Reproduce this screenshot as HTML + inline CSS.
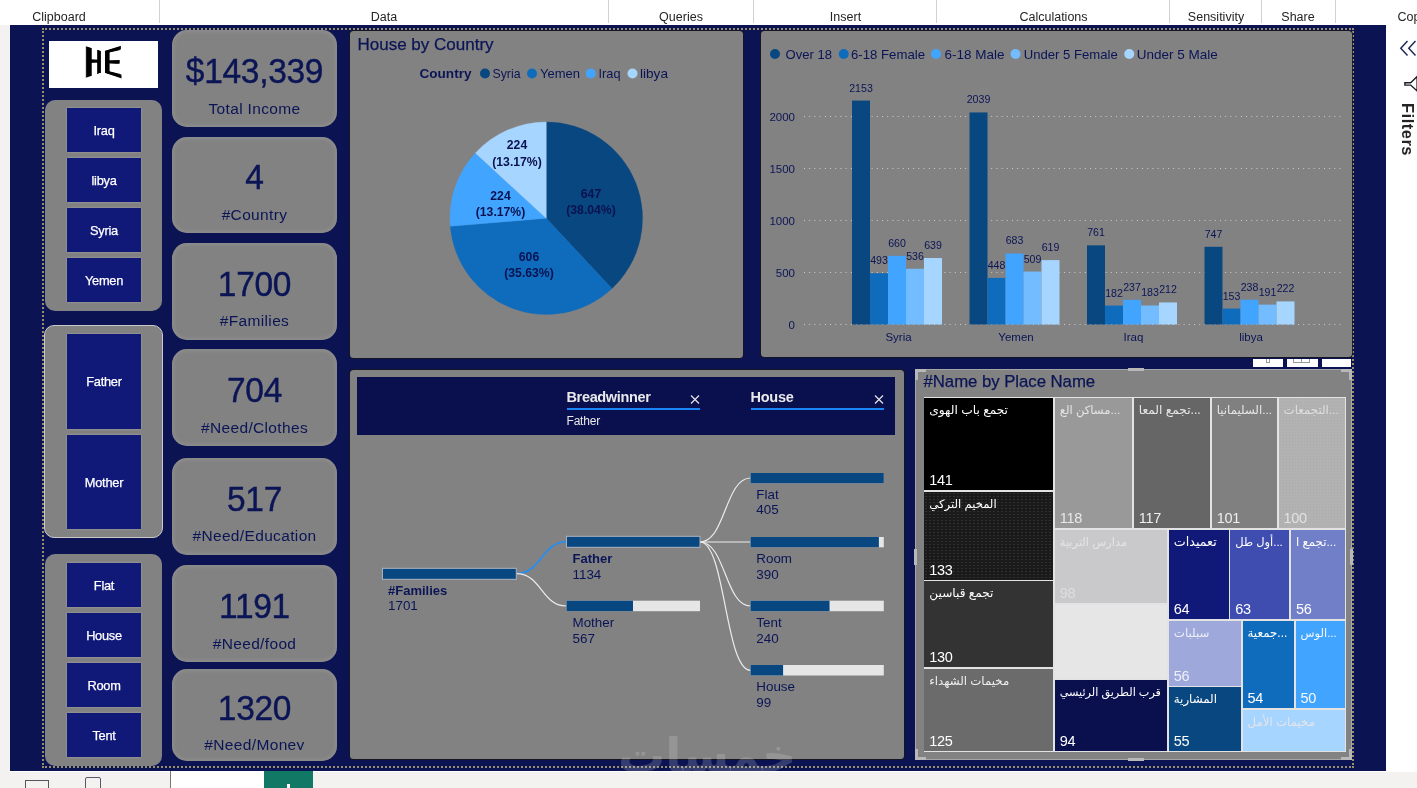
<!DOCTYPE html><html><head><meta charset="utf-8"><title>Dashboard</title><style>
*{margin:0;padding:0;box-sizing:border-box}
html,body{width:1417px;height:788px;overflow:hidden;background:#f3f2f1;font-family:"Liberation Sans","DejaVu Sans",sans-serif}
.abs{position:absolute}
#ribbon{position:absolute;left:0;top:0;width:1417px;height:25px;background:#fff}
#ribbon .sep{position:absolute;top:0;width:1px;height:23px;background:#d2d0ce}
#ribbon .lb{position:absolute;top:9.5px;font-size:12.5px;line-height:14px;color:#252423;white-space:nowrap;transform:translateX(-50%)}
#canvas{position:absolute;left:10px;top:25px;width:1376.5px;height:745.5px;background:#0b1352;overflow:hidden}
#wrap{position:absolute;left:0;top:0;width:1417px;height:788px;overflow:hidden}
.panel{position:absolute;background:#828282}
.btn{position:absolute;left:67px;width:74px;background:#101878;color:#fff;font-size:12.8px;text-align:center;box-shadow:0 0 2px rgba(200,200,210,.55)}
.btn span{position:absolute;left:0;right:0;top:50%;transform:translateY(-50%);line-height:14px;letter-spacing:-0.25px;-webkit-text-stroke:.25px #fff;margin-top:.8px}
.card{position:absolute;left:172px;width:165px;background:#828282;border-radius:15px;box-shadow:inset 0 0 5px 1px rgba(158,158,158,.55);overflow:hidden;color:#0b1556;text-align:center}
.card .v{position:absolute;left:0;right:0;font-size:35px;line-height:40px;letter-spacing:-0.3px;transform:scaleX(.957);-webkit-text-stroke:.42px #0b1556}

.lg{position:absolute;top:-3.5px;height:47px;font-size:47px;line-height:47px;color:#000;text-shadow:1px 0 #000,-1px 0 #000,2px 0 #000,-2px 0 #000,2.6px 0 #000,-2.6px 0 #000}
.din{font-family:"Liberation Sans",sans-serif}
.tm{position:absolute;overflow:hidden}
.tm .t{position:absolute;left:5px;top:3px;font-size:12.5px;line-height:18px;white-space:nowrap;font-family:"Liberation Sans","DejaVu Sans",sans-serif}
.tm .n{position:absolute;left:5px;bottom:1px;font-size:14.5px;line-height:18px;letter-spacing:-.3px}
.card .l{position:absolute;left:0;right:0;font-size:15.5px;line-height:18px;letter-spacing:.35px}
</style></head><body><div id="wrap">
<div id="ribbon">
<div class="sep" style="left:159px"></div>
<div class="sep" style="left:608px"></div>
<div class="sep" style="left:753px"></div>
<div class="sep" style="left:936px"></div>
<div class="sep" style="left:1169px"></div>
<div class="sep" style="left:1261px"></div>
<div class="sep" style="left:1335px"></div>
<div class="lb" style="left:59px">Clipboard</div>
<div class="lb" style="left:384px">Data</div>
<div class="lb" style="left:681px">Queries</div>
<div class="lb" style="left:845.5px">Insert</div>
<div class="lb" style="left:1053.5px">Calculations</div>
<div class="lb" style="left:1216px">Sensitivity</div>
<div class="lb" style="left:1298px">Share</div>
<div class="lb" style="left:1397.5px;transform:none">Copy</div>
</div>
<div id="canvas"><div class="abs" id="cv" style="left:-10px;top:-25px;width:1417px;height:788px">
<div class="abs" style="left:45px;top:28px;width:1306px;height:2px;background:repeating-linear-gradient(90deg,#96906f 0 2px,transparent 2px 4px)"></div>
<div class="abs" style="left:45px;top:766px;width:1306px;height:2px;background:repeating-linear-gradient(90deg,#96906f 0 2px,transparent 2px 4px)"></div>
<div class="abs" style="left:42px;top:31px;width:2px;height:734px;background:repeating-linear-gradient(180deg,#96906f 0 2px,transparent 2px 4px)"></div>
<div class="abs" style="left:1352px;top:31px;width:2px;height:734px;background:repeating-linear-gradient(180deg,#96906f 0 2px,transparent 2px 4px)"></div>
<div class="abs" style="left:42px;top:28px;width:2px;height:2px;background:#96906f"></div>
<div class="abs" style="left:42px;top:766px;width:2px;height:2px;background:#96906f"></div>
<div class="abs" style="left:1352px;top:28px;width:2px;height:2px;background:#96906f"></div>
<div class="abs" style="left:1352px;top:766px;width:2px;height:2px;background:#96906f"></div>
<div class="abs" style="left:49px;top:41px;width:109px;height:47px;background:#fff"></div>
<div class="abs" id="logo" style="left:49px;top:41px;width:109px;height:47px"><span class="lg" style="left:36px;transform-origin:0 50%;transform:perspective(50px) rotateY(45deg)">H</span><span class="lg" style="right:38px;text-shadow:1px 0 #000,-1px 0 #000,2px 0 #000,-2px 0 #000,3px 0 #000,-3px 0 #000,3.5px 0 #000,-3.5px 0 #000;transform-origin:100% 50%;transform:perspective(50px) rotateY(-45deg)">E</span></div>
<div class="panel" style="left:45px;top:100px;width:117px;height:211px;border-radius:10px;"></div>
<div class="btn" style="top:108px;height:44px"><span>Iraq</span></div>
<div class="btn" style="top:158px;height:44px"><span>libya</span></div>
<div class="btn" style="top:208px;height:44px"><span>Syria</span></div>
<div class="btn" style="top:258px;height:44px"><span>Yemen</span></div>
<div class="panel" style="left:44px;top:325px;width:119px;height:213px;border-radius:10px;border:1px solid #c9c9c9;"></div>
<div class="btn" style="top:334px;height:95px"><span>Father</span></div>
<div class="btn" style="top:435px;height:94px"><span>Mother</span></div>
<div class="panel" style="left:45px;top:554px;width:117px;height:212px;border-radius:10px;"></div>
<div class="btn" style="top:563px;height:44px"><span>Flat</span></div>
<div class="btn" style="top:613px;height:44px"><span>House</span></div>
<div class="btn" style="top:663px;height:44px"><span>Room</span></div>
<div class="btn" style="top:713px;height:44px"><span>Tent</span></div>
<div class="card" style="top:30px;height:97px"><div class="v" style="top:21.2px">$143,339</div><div class="l" style="top:69.6px">Total Income</div></div>
<div class="card" style="top:137px;height:96px"><div class="v" style="top:20.2px">4</div><div class="l" style="top:68.6px">#Country</div></div>
<div class="card" style="top:243px;height:96.5px"><div class="v" style="top:20.7px">1700</div><div class="l" style="top:69.1px">#Families</div></div>
<div class="card" style="top:349px;height:97px"><div class="v" style="top:21.2px">704</div><div class="l" style="top:69.6px">#Need/Clothes</div></div>
<div class="card" style="top:457.5px;height:97.0px"><div class="v" style="top:21.2px">517</div><div class="l" style="top:69.6px">#Need/Education</div></div>
<div class="card" style="top:565px;height:97px"><div class="v" style="top:21.2px">1191</div><div class="l" style="top:69.6px">#Need/food</div></div>
<div class="card" style="top:669px;height:91.5px"><div class="v" style="top:18.8px">1320</div><div class="l" style="top:66.5px;height:14px;overflow:hidden">#Need/Money</div></div>
<div class="panel" style="left:350px;top:31px;width:393px;height:326.5px;border-radius:3.5px;box-shadow:0 0 0 1px rgba(22,22,22,.8)"></div>
<div class="abs din" style="left:357.5px;top:35px;font-size:17px;line-height:20px;color:#0b1556;letter-spacing:0;-webkit-text-stroke:.25px #0b1556">House by Country</div>
<svg class="abs" style="left:0;top:0" width="1417" height="788" viewBox="0 0 1417 788">
<g font-family="Liberation Sans, sans-serif" font-size="13" fill="#0b1556">
<text x="419.5" y="78" font-weight="bold" textLength="52" lengthAdjust="spacingAndGlyphs">Country</text>
<circle cx="485" cy="73.5" r="5" fill="#094780"/>
<text x="492.5" y="78" textLength="28" lengthAdjust="spacingAndGlyphs">Syria</text>
<circle cx="532" cy="73.5" r="5" fill="#0f6cbd"/>
<text x="540" y="78" textLength="40" lengthAdjust="spacingAndGlyphs">Yemen</text>
<circle cx="590.75" cy="73.5" r="5" fill="#41a4ff"/>
<text x="598.5" y="78" textLength="22" lengthAdjust="spacingAndGlyphs">Iraq</text>
<circle cx="632.5" cy="73.5" r="5" fill="#a6d5ff"/>
<text x="640" y="78" textLength="28" lengthAdjust="spacingAndGlyphs">libya</text>
</g>
<path d="M546.25 218.25 L546.25 122.00 A96.25 96.25 0 0 1 611.96 288.58 Z" fill="#094780" stroke="#094780" stroke-width=".4"/>
<path d="M546.25 218.25 L611.96 288.58 A96.25 96.25 0 0 1 450.34 226.28 Z" fill="#0f6cbd" stroke="#0f6cbd" stroke-width=".4"/>
<path d="M546.25 218.25 L450.34 226.28 A96.25 96.25 0 0 1 475.43 153.07 Z" fill="#41a4ff" stroke="#41a4ff" stroke-width=".4"/>
<path d="M546.25 218.25 L475.43 153.07 A96.25 96.25 0 0 1 546.25 122.00 Z" fill="#a6d5ff" stroke="#a6d5ff" stroke-width=".4"/>
<g font-family="Liberation Sans, sans-serif" font-size="12.2" font-weight="bold" fill="#0a1250" text-anchor="middle">
<text x="517" y="149">224</text><text x="517" y="165.5">(13.17%)</text>
<text x="500.5" y="200">224</text><text x="500.5" y="216">(13.17%)</text>
<text x="591" y="197.5">647</text><text x="591" y="213.5">(38.04%)</text>
<text x="529" y="260.5">606</text><text x="529" y="276.5">(35.63%)</text>
</g>
</svg>
<div class="panel" style="left:761px;top:31px;width:591px;height:326px;border-radius:3.5px;box-shadow:0 0 0 1px rgba(22,22,22,.8)"></div>
<svg class="abs" style="left:0;top:0" width="1417" height="788" viewBox="0 0 1417 788">
<g font-family="Liberation Sans, sans-serif" font-size="13" fill="#0b1556">
<circle cx="775" cy="54" r="5" fill="#094780"/>
<text x="785.5" y="58.5" textLength="46.5" lengthAdjust="spacingAndGlyphs">Over 18</text>
<circle cx="843.75" cy="54" r="5" fill="#0f6cbd"/>
<text x="851" y="58.5" textLength="74" lengthAdjust="spacingAndGlyphs">6-18 Female</text>
<circle cx="936" cy="54" r="5" fill="#41a4ff"/>
<text x="944.5" y="58.5" textLength="60" lengthAdjust="spacingAndGlyphs">6-18 Male</text>
<circle cx="1015.5" cy="54" r="5" fill="#73bcff"/>
<text x="1023.75" y="58.5" textLength="94" lengthAdjust="spacingAndGlyphs">Under 5 Female</text>
<circle cx="1129.25" cy="54" r="5" fill="#a6d5ff"/>
<text x="1136.75" y="58.5" textLength="81" lengthAdjust="spacingAndGlyphs">Under 5 Male</text>
</g>
<g stroke="#d8d8d8" stroke-width="1" stroke-dasharray="1 4.2" opacity=".85">
<line x1="804" x2="1343" y1="324.50" y2="324.50"/>
<line x1="804" x2="1343" y1="272.50" y2="272.50"/>
<line x1="804" x2="1343" y1="220.50" y2="220.50"/>
<line x1="804" x2="1343" y1="168.50" y2="168.50"/>
<line x1="804" x2="1343" y1="116.50" y2="116.50"/>
</g>
<g font-family="Liberation Sans, sans-serif" font-size="11.5" fill="#0b1556" text-anchor="end">
<text x="795" y="328.70">0</text>
<text x="795" y="276.70">500</text>
<text x="795" y="224.70">1000</text>
<text x="795" y="172.70">1500</text>
<text x="795" y="120.70">2000</text>
</g>
<rect x="852.00" y="100.59" width="18" height="223.91" fill="#094780"/>
<rect x="870.00" y="273.23" width="18" height="51.27" fill="#0f6cbd"/>
<rect x="888.00" y="255.86" width="18" height="68.64" fill="#41a4ff"/>
<rect x="906.00" y="268.76" width="18" height="55.74" fill="#73bcff"/>
<rect x="924.00" y="258.04" width="18" height="66.46" fill="#a6d5ff"/>
<rect x="969.50" y="112.44" width="18" height="212.06" fill="#094780"/>
<rect x="987.50" y="277.91" width="18" height="46.59" fill="#0f6cbd"/>
<rect x="1005.50" y="253.47" width="18" height="71.03" fill="#41a4ff"/>
<rect x="1023.50" y="271.56" width="18" height="52.94" fill="#73bcff"/>
<rect x="1041.50" y="260.12" width="18" height="64.38" fill="#a6d5ff"/>
<rect x="1087.00" y="245.36" width="18" height="79.14" fill="#094780"/>
<rect x="1105.00" y="305.57" width="18" height="18.93" fill="#0f6cbd"/>
<rect x="1123.00" y="299.85" width="18" height="24.65" fill="#41a4ff"/>
<rect x="1141.00" y="305.47" width="18" height="19.03" fill="#73bcff"/>
<rect x="1159.00" y="302.45" width="18" height="22.05" fill="#a6d5ff"/>
<rect x="1204.50" y="246.81" width="18" height="77.69" fill="#094780"/>
<rect x="1222.50" y="308.59" width="18" height="15.91" fill="#0f6cbd"/>
<rect x="1240.50" y="299.75" width="18" height="24.75" fill="#41a4ff"/>
<rect x="1258.50" y="304.64" width="18" height="19.86" fill="#73bcff"/>
<rect x="1276.50" y="301.41" width="18" height="23.09" fill="#a6d5ff"/>
<g font-family="Liberation Sans, sans-serif" font-size="10.6" fill="#0b1556" text-anchor="middle">
<text x="861.00" y="91.59">2153</text>
<text x="879.00" y="264.23">493</text>
<text x="897.00" y="246.86">660</text>
<text x="915.00" y="259.76">536</text>
<text x="933.00" y="249.04">639</text>
<text x="978.50" y="103.44">2039</text>
<text x="996.50" y="268.91">448</text>
<text x="1014.50" y="244.47">683</text>
<text x="1032.50" y="262.56">509</text>
<text x="1050.50" y="251.12">619</text>
<text x="1096.00" y="236.36">761</text>
<text x="1114.00" y="296.57">182</text>
<text x="1132.00" y="290.85">237</text>
<text x="1150.00" y="296.47">183</text>
<text x="1168.00" y="293.45">212</text>
<text x="1213.50" y="237.81">747</text>
<text x="1231.50" y="299.59">153</text>
<text x="1249.50" y="290.75">238</text>
<text x="1267.50" y="295.64">191</text>
<text x="1285.50" y="292.41">222</text>
</g>
<g font-family="Liberation Sans, sans-serif" font-size="11.5" fill="#0b1556" text-anchor="middle">
<text x="898.50" y="341">Syria</text>
<text x="1016.00" y="341">Yemen</text>
<text x="1133.50" y="341">Iraq</text>
<text x="1251.00" y="341">libya</text>
</g>
</svg>
<div class="abs" style="left:1253px;top:358.5px;width:29.5px;height:8.5px;background:#fff"></div>
<div class="abs" style="left:1286.75px;top:358.5px;width:30.75px;height:8.5px;background:#fff"></div>
<div class="abs" style="left:1321.75px;top:358.5px;width:29.25px;height:8.5px;background:#fff"></div>
<div class="abs" style="left:1266px;top:358.5px;width:4px;height:4px;border:1px solid #999;border-top:0"></div>
<div class="abs" style="left:1293px;top:358.5px;width:17px;height:4px;border:1px solid #999;border-top:0"></div>
<div class="abs" style="left:1301px;top:358.5px;width:1px;height:4px;background:#999"></div>
<div class="panel" style="left:349.5px;top:369.5px;width:554px;height:389.5px;border-radius:3.5px;box-shadow:0 0 0 1px rgba(22,22,22,.8)"></div>
<div class="abs" style="left:357px;top:377px;width:538px;height:57.5px;background:#0a104e"></div>
<div class="abs din" style="left:566.5px;top:387px;font-size:14.5px;font-weight:bold;line-height:20px;color:#e9e9e9;letter-spacing:-.35px">Breadwinner</div>
<div class="abs din" style="left:750.5px;top:387px;font-size:14.5px;font-weight:bold;line-height:20px;color:#e9e9e9;letter-spacing:-.25px">House</div>
<div class="abs" style="left:566.5px;top:407.5px;width:133.5px;height:2px;background:#1a86f5"></div>
<div class="abs" style="left:750.5px;top:407.5px;width:133.5px;height:2px;background:#1a86f5"></div>
<div class="abs" style="left:566.5px;top:413px;font-size:12px;line-height:16px;color:#e9e9e9;letter-spacing:-.2px">Father</div>
<svg class="abs" style="left:0;top:0" width="1417" height="788" viewBox="0 0 1417 788">
<path d="M691 395.5 l8 8 m0 -8 l-8 8" stroke="#e0e0e0" stroke-width="1.3" fill="none"/>
<path d="M875 395.5 l8 8 m0 -8 l-8 8" stroke="#e0e0e0" stroke-width="1.3" fill="none"/>
<path d="M516.5 573.7 C541.5 573.7 541.5 541.8 566.5 541.8" stroke="#1e8fff" stroke-width="1.6" fill="none"/>
<path d="M516.5 573.7 C541.5 573.7 541.5 606 566.5 606" stroke="#ececec" stroke-width="1.2" fill="none"/>
<path d="M700 542 C725.25 542 725.25 478 750.5 478" stroke="#ececec" stroke-width="1.2" fill="none"/>
<path d="M700 542 C725.25 542 725.25 542 750.5 542" stroke="#ececec" stroke-width="1.2" fill="none"/>
<path d="M700 542 C725.25 542 725.25 606 750.5 606" stroke="#ececec" stroke-width="1.2" fill="none"/>
<path d="M700 542 C725.25 542 725.25 670.3 750.5 670.3" stroke="#ececec" stroke-width="1.2" fill="none"/>
<rect x="382.5" y="568.3" width="133.8" height="11" fill="#e6e6e6"/>
<rect x="382.5" y="568.3" width="133.80" height="11" fill="#094780"/>
<rect x="382.5" y="568.3" width="133.8" height="11" fill="none" stroke="#a9b0bd" stroke-width="1"/>
<rect x="566.5" y="536.3" width="133.5" height="11" fill="#e6e6e6"/>
<rect x="566.5" y="536.3" width="133.50" height="11" fill="#094780"/>
<rect x="566.5" y="536.3" width="133.5" height="11" fill="none" stroke="#a9b0bd" stroke-width="1"/>
<rect x="566.5" y="600.7" width="133.5" height="10.5" fill="#e6e6e6"/>
<rect x="566.5" y="600.7" width="66.48" height="10.5" fill="#094780"/>
<rect x="750.5" y="473" width="133.3" height="10.3" fill="#e6e6e6"/>
<rect x="750.5" y="473" width="133.30" height="10.3" fill="#094780"/>
<rect x="750.5" y="537" width="133.3" height="10.3" fill="#e6e6e6"/>
<rect x="750.5" y="537" width="128.37" height="10.3" fill="#094780"/>
<rect x="750.5" y="600.7" width="133.3" height="10.5" fill="#e6e6e6"/>
<rect x="750.5" y="600.7" width="79.05" height="10.5" fill="#094780"/>
<rect x="750.5" y="665" width="133.3" height="10.5" fill="#e6e6e6"/>
<rect x="750.5" y="665" width="32.59" height="10.5" fill="#094780"/>
<g font-family="Liberation Sans, sans-serif" font-size="13.4" fill="#0b1556">
<text x="388" y="594.5" font-weight="bold" font-size="13">#Families</text><text x="388" y="610.2">1701</text>
<text x="572.5" y="563" font-weight="bold" font-size="13">Father</text><text x="572.5" y="578.7">1134</text>
<text x="572.5" y="627">Mother</text><text x="572.5" y="642.7">567</text>
<text x="756.3" y="498.7">Flat</text><text x="756.3" y="514.4">405</text>
<text x="756.3" y="563">Room</text><text x="756.3" y="578.7">390</text>
<text x="756.3" y="627">Tent</text><text x="756.3" y="642.7">240</text>
<text x="756.3" y="691.3">House</text><text x="756.3" y="707.0">99</text>
</g>
</svg>
<div class="abs" style="left:597px;top:726px;width:220px;height:60px;text-align:center;font-family:'DejaVu Sans',sans-serif;font-weight:bold;font-size:47px;line-height:60px;color:rgba(225,225,232,.2);direction:rtl;white-space:nowrap">خمسات</div>
<div class="panel" style="left:915px;top:368.75px;width:437px;height:391px;border:1px solid #a6a6a6"></div>
<div class="abs din" style="left:923.5px;top:372px;font-size:16.8px;line-height:20px;color:#0b1556;letter-spacing:-.05px;-webkit-text-stroke:.25px #0b1556">#Name by Place Name</div>
<div class="abs" style="left:1128px;top:368px;width:16px;height:3px;background:#b8b8b8"></div>
<div class="abs" style="left:1128px;top:758px;width:16px;height:3px;background:#b8b8b8"></div>
<div class="abs" style="left:914px;top:549px;width:3px;height:16px;background:#b8b8b8"></div>
<div class="abs" style="left:1350px;top:549px;width:3px;height:16px;background:#b8b8b8"></div>
<div class="abs" style="left:915px;top:368.75px;width:11px;height:11px;border-left:3px solid #b8b8b8;border-top:3px solid #b8b8b8"></div>
<div class="abs" style="left:1341px;top:368.75px;width:11px;height:11px;border-right:3px solid #b8b8b8;border-top:3px solid #b8b8b8"></div>
<div class="abs" style="left:915px;top:749px;width:11px;height:11px;border-left:3px solid #b8b8b8;border-bottom:3px solid #b8b8b8"></div>
<div class="abs" style="left:1341px;top:749px;width:11px;height:11px;border-right:3px solid #b8b8b8;border-bottom:3px solid #b8b8b8"></div>
<div class="abs" style="left:923.5px;top:396.5px;width:422px;height:355px;background:#e3e3e3"></div>
<div class="tm" style="left:924.25px;top:397.5px;width:129.0px;height:92.5px;background:#000000"><span class="t" style="font-size:12.19px;color:#fff">تجمع باب الهوى</span><span class="n" style="color:#fff">141</span></div>
<div class="tm" style="left:924.25px;top:492px;width:129.0px;height:87.5px;background:#1a1a1a radial-gradient(#303030 .55px,transparent .8px) 0 0/4px 3px"><span class="t" style="font-size:11.64px;color:#fff">المخيم التركي</span><span class="n" style="color:#fff">133</span></div>
<div class="tm" style="left:924.25px;top:581.25px;width:129.0px;height:85.75px;background:#333333"><span class="t" style="font-size:12.13px;color:#fff">تجمع قباسين</span><span class="n" style="color:#fff">130</span></div>
<div class="tm" style="left:924.25px;top:668.75px;width:129.0px;height:82.25px;background:#6b6b6b"><span class="t" style="font-size:11.78px;color:#eee">مخيمات الشهداء</span><span class="n" style="color:#fff">125</span></div>
<div class="tm" style="left:1054.75px;top:397.5px;width:77.25px;height:130.0px;background:#999999"><span class="t" style="font-size:11.64px;color:#e4e4e4">مساكن الع...</span><span class="n" style="color:#e8e8e8">118</span></div>
<div class="tm" style="left:1133.75px;top:397.5px;width:76.25px;height:130.0px;background:#666666"><span class="t" style="font-size:12.17px;color:#e8e8e8">تجمع المعا...</span><span class="n" style="color:#eee">117</span></div>
<div class="tm" style="left:1211.75px;top:397.5px;width:65.0px;height:130.0px;background:#808080"><span class="t" style="font-size:11.73px;color:#e6e6e6">السليمانيا...</span><span class="n" style="color:#eee">101</span></div>
<div class="tm" style="left:1278.5px;top:397.5px;width:66.5px;height:130.0px;background:#b2b2b2 radial-gradient(#ababab .55px,transparent .8px) 0 0/3px 3px"><span class="t" style="font-size:11.83px;color:#dedede">التجمعات...</span><span class="n" style="color:#e2e2e2">100</span></div>
<div class="tm" style="left:1054.75px;top:529.5px;width:112.25px;height:73.75px;background:#c9c9cb"><span class="t" style="font-size:11.49px;color:#e4e4e4">مدارس التربية</span><span class="n" style="color:#dedede">98</span></div>
<div class="tm" style="left:1054.75px;top:605px;width:112.25px;height:73.25px;background:#e6e6e6"><span class="t" style="font-size:12.5px;color:#eee"></span><span class="n" style="color:#eee"></span></div>
<div class="tm" style="left:1054.75px;top:680px;width:112.25px;height:71px;background:#0a104e"><span class="t" style="font-size:11.21px;color:#fff">قرب الطريق الرئيسي</span><span class="n" style="color:#fff">94</span></div>
<div class="tm" style="left:1168.75px;top:529.5px;width:60.0px;height:89.0px;background:#101878"><span class="t" style="font-size:12.7px;color:#fff">تعميدات</span><span class="n" style="color:#fff">64</span></div>
<div class="tm" style="left:1230.25px;top:529.5px;width:59.0px;height:89.0px;background:#3f4db0"><span class="t" style="font-size:11.44px;color:#fff">أول طل...</span><span class="n" style="color:#fff">63</span></div>
<div class="tm" style="left:1291px;top:529.5px;width:54px;height:89.0px;background:#717ec8"><span class="t" style="font-size:11.76px;color:#fff">تجمع ا...</span><span class="n" style="color:#fff">56</span></div>
<div class="tm" style="left:1168.75px;top:620.5px;width:71.75px;height:65.0px;background:#9fa8da"><span class="t" style="font-size:11.84px;color:#eceefa">سبلبات</span><span class="n" style="color:#f0f0fa">56</span></div>
<div class="tm" style="left:1168.75px;top:687.25px;width:71.75px;height:63.75px;background:#094780"><span class="t" style="font-size:11.83px;color:#fff">المشارية</span><span class="n" style="color:#fff">55</span></div>
<div class="tm" style="left:1242.5px;top:620.5px;width:51.25px;height:87.25px;background:#0f6cbd"><span class="t" style="font-size:11.86px;color:#fff">جمعية...</span><span class="n" style="color:#fff">54</span></div>
<div class="tm" style="left:1295.5px;top:620.5px;width:49.5px;height:87.25px;background:#41a4ff"><span class="t" style="font-size:11.49px;color:#f4f8ff">الوس...</span><span class="n" style="color:#f4f8ff">50</span></div>
<div class="tm" style="left:1242.5px;top:709.75px;width:102.5px;height:41.25px;background:#a6d5ff"><span class="t" style="font-size:11.79px;color:#e4e4ea">مخيمات الأمل</span><span class="n" style="color:#fff"></span></div>
</div></div>
<div class="abs" style="left:0;top:25px;width:10px;height:763px;background:#f3f2f1"></div>
<div class="abs" id="rpane" style="left:1386.3px;top:25px;width:31px;height:745.5px;background:#fff"></div>
<svg class="abs" style="left:1386.5px;top:25px" width="31" height="140" viewBox="1386.5 25 31 140"><g fill="none" stroke="#1f2a55" stroke-width="1.5"><path d="M1407 41 L1400.3 48.2 L1407 55.4 M1415 41 L1408.3 48.2 L1415 55.4"/><path d="M1416.6 76.6 L1410.2 82.8 L1404.4 82.8 L1404.4 85.1 L1410.2 85.1 L1416.6 91 Z" stroke="#1b1b25" stroke-width="1.4" stroke-linejoin="miter"/></g></svg>
<div class="abs" style="left:1398px;top:102.5px;width:19px;height:60px;writing-mode:vertical-rl;font-weight:bold;font-size:16.5px;line-height:19px;color:#252423;letter-spacing:.5px;white-space:nowrap">Filters</div>
<div class="abs" id="bbar" style="left:0;top:770.5px;width:1417px;height:18px;background:#f3f2f1"></div>
<div class="abs" style="left:10px;top:770.5px;width:1407px;height:1.2px;background:#fff"></div>
<div class="abs" style="left:170px;top:770.5px;width:94px;height:18px;background:#fff;border-left:1px solid #777"></div>
<div class="abs" style="left:264px;top:770.5px;width:49px;height:18px;background:#117865"></div>
<div class="abs" style="left:287px;top:784px;width:3px;height:5px;background:#fff"></div>
<div class="abs" style="left:25px;top:780px;width:23.5px;height:12px;border:1.4px solid #55565c"></div>
<div class="abs" style="left:85px;top:777px;width:15.5px;height:14px;border:1.4px solid #55596a;border-radius:2px"></div>
</div></body></html>
